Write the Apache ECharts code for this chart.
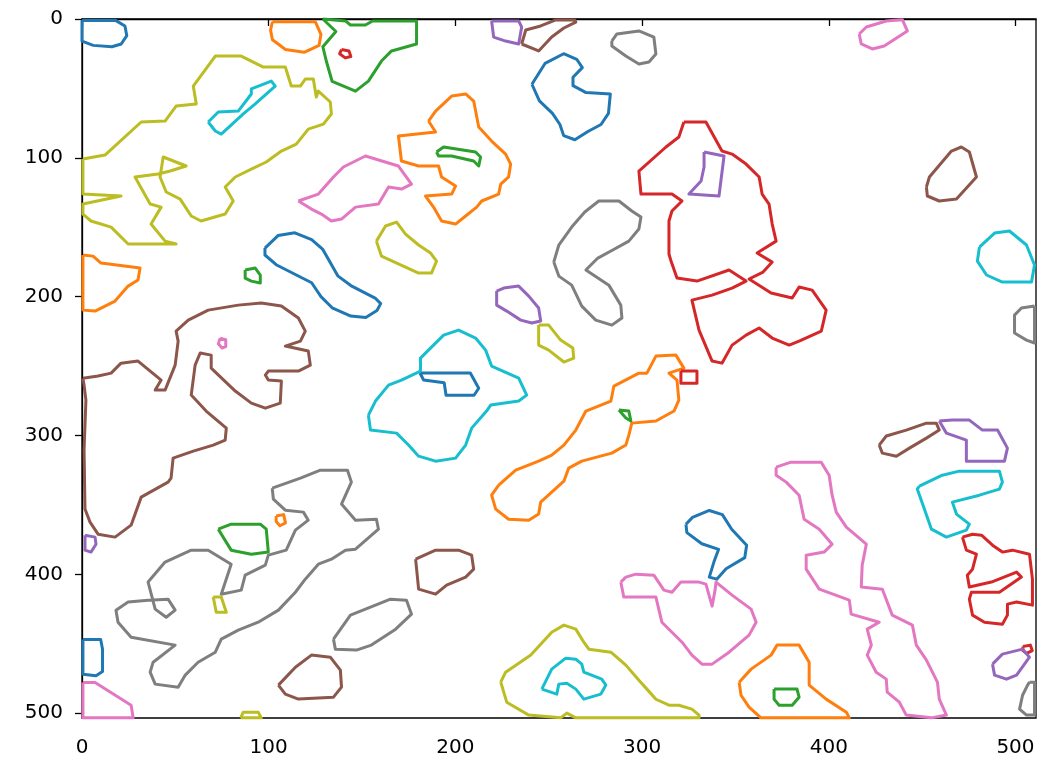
<!DOCTYPE html>
<html>
<head>
<meta charset="utf-8">
<script src="https://cdn.jsdelivr.net/npm/echarts@6/dist/echarts.min.js"></script>
<style>
  html, body { margin: 0; padding: 0; background: #fff; }
  #chart { width: 1043px; height: 775px; }
</style>
</head>
<body>
<div id="chart"></div>
<script>
// contour outlines, [x, y] in image coordinates (y grows downward)
var blueContours = [
  [[0,1],[18,1],[23,5],[24,12],[21,18],[16,20],[6,19],[0,16]],
  [[241,47],[248,32],[258,25],[265,29],[268,35],[263,42],[263,48],[270,53],[283,54],[282,68],[278,76],[271,81],[264,87],[258,84],[256,76],[252,68],[245,59]],
  [[98,165],[105,156],[114,154],[123,159],[129,166],[137,185],[144,192],[157,201],[160,205],[158,210],[152,215],[144,214],[134,208],[128,200],[123,190],[104,177],[98,170]],
  [[181,255],[208,255],[212.5,266],[210,271],[195,271],[194,262],[183,260]],
  [[0.5,447],[10,447],[11,454],[11,470],[7.5,473],[0.5,472]],
  [[323.5,364],[327,359],[336,354],[343,357],[348,367.5],[356,379],[355,388],[345,396],[340,403.5],[336,402],[338.5,391],[341,382],[332,378],[324,370]]
];
var orangeContours = [
  [[102,2],[125,2],[128,11],[127,19],[119,24],[109,22],[102,15],[101,8]],
  [[185.6,73.5],[189.4,66.3],[198,55.5],[205.5,54],[209.8,59.1],[212.5,77.8],[219.4,87.9],[226.9,97.3],[229.6,104.5],[228.5,113.8],[224.3,118.9],[223.2,126.1],[214.1,131.1],[211.4,135.5],[205.5,141.9],[200.1,147.7],[192.6,145.5],[188.3,135.5],[184,127.5],[198,126.1],[200.1,120.3],[192.6,113.8],[191,105.9],[180.3,105.9],[171.1,102.3],[169.5,84.3],[189.4,81.4]],
  [[0.5,170],[5.9,170.8],[10.2,175.8],[31.1,179.4],[30,188],[24.7,192.4],[17.7,203.2],[7,210.4],[0.5,209.7]],
  [[223.2,335.8],[232.3,325],[244.6,318.5],[251.6,314.1],[258.1,306.9],[264.5,296.1],[269.9,282.4],[283.3,275.2],[284.9,264.4],[298.3,255.1],[302.6,255.1],[307.4,242.8],[318.1,242.1],[322.4,251.5],[314.4,255.1],[318.7,260.1],[319.7,274.5],[317.1,282.4],[307.4,289.6],[294.5,291.1],[292.9,299.7],[291.3,306.9],[283.8,312.7],[267.7,318.5],[260.7,323.5],[258.1,332.9],[251.6,340.8],[245.7,348],[244.6,356.6],[239.3,361],[228.5,360.3],[221.6,353],[219.4,343]],
  [[104,358],[108,357],[109,363],[106,365],[104,362]],
  [[352,477.7],[358.4,468.3],[369.1,458.2],[372.3,451],[384.1,451],[389.5,463.3],[389.5,479.8],[398.6,489.9],[409.4,499.3],[411,503.4],[363.7,503.4],[357.3,495.7],[353,487.1]]
];
var greenContours = [
  [[129,0],[136,9],[129,20],[131,31],[134,45],[146.5,52],[153.4,44.7],[160.4,30.3],[165.8,23],[179.2,18],[179.2,1.4],[155.6,1.4],[151.8,4.3],[143.8,4.3],[141.1,1.4]],
  [[189.9,95.8],[193.7,92.2],[210.8,95.8],[213.5,99.4],[212.5,105.9],[209.8,102.3],[198,98.7],[191,98.7]],
  [[87.4,180.8],[92.8,179.4],[95.5,184.5],[95.5,190.2],[90.7,188.8],[87.4,186.7]],
  [[73,367.5],[79.9,363.9],[95.5,363.9],[98.7,367.5],[99.8,384],[90.7,385.5],[79.9,382.6]],
  [[287.6,281.7],[292.9,282.4],[294,289.6],[291.3,287.4]],
  [[370.7,482.7],[383,482.7],[384.1,488.5],[380.4,494.3],[373.4,494.3],[370.7,489.9]]
];
var redContours = [
  [[139,22],[143,23],[144,27],[141,28],[138,25]],
  [[322.4,74.2],[334.2,74.2],[342.8,95.1],[348.2,97.3],[355.7,104.5],[362.7,113.8],[364.3,126.1],[368,133.3],[369.7,147.7],[371.8,160],[361.6,168.6],[369.7,175.1],[364.8,182.3],[357.3,187.3],[369.1,197.4],[380.4,201],[384.1,193.1],[391.1,195.3],[398.6,209.7],[396,224.8],[384.1,232],[378.8,234.9],[369.7,229.8],[362.7,222.6],[355.7,227.7],[348.2,234.9],[342.8,247.9],[337.5,246.4],[330.5,224.1],[326.7,202.5],[337.5,198.9],[348.2,193.8],[355.7,188.8],[346.6,180.8],[329.4,188.8],[318.7,186.6],[315.5,174.4],[314.4,169.3],[314.4,145.5],[316,138.3],[321.4,131.1],[316,126.1],[299.4,126.1],[298.3,109.5],[312.8,92.2],[319.7,85]],
  [[320.8,253.6],[329.4,253.6],[329.4,262.3],[320.8,262.3]],
  [[471.6,373.2],[477,371.1],[481.8,371.8],[487.7,379],[493,384],[498.4,382.6],[507.5,385.5],[509.1,403.5],[509.1,422.2],[500.6,420],[495.7,421.5],[495.7,429.4],[493,435.9],[483.4,434.5],[477,429.4],[475.3,417.9],[476.4,412.9],[491.4,412.9],[503.2,402],[500.6,398.4],[487.1,405.6],[475.3,409.2],[474.2,400.6],[477,396.3],[479.1,385.5],[473.7,382.6]],
  [[504,452],[508,451],[509,455],[506,457],[504,455]]
];
var purpleContours = [
  [[219.4,1.4],[220.5,13],[226.9,15.9],[233.9,18],[235.5,5.8],[233.9,1.4]],
  [[333.2,95.8],[343.9,98.7],[341.2,127.5],[325.1,126.1],[331.6,116.7],[333.2,106.6]],
  [[222.1,196],[225.9,193.8],[233.9,192.4],[239.3,199.6],[244.6,208.2],[245.7,217.6],[240.9,219],[235,216.9],[227.5,210.4],[222.1,206.1]],
  [[1.6,371.8],[7,373.2],[7.5,378.3],[4.8,384],[1.6,382.6]],
  [[459.2,289.6],[466.2,288.9],[475.3,288.9],[482.3,296.1],[490.4,296.1],[495.7,309.1],[494.1,318.5],[473.7,318.5],[473.7,303.3],[463,298.3]],
  [[487.7,464.7],[493,457.5],[503.8,453.9],[507.5,459.7],[500.6,472.6],[495.2,475.5],[488.8,472.6]]
];
var brownContours = [
  [[235.5,18],[244.6,23],[251.6,13],[258.1,6.5],[264.5,2.2],[264,0.7],[253.8,0.7],[245.7,5],[237.7,7.9]],
  [[452.3,121],[453.9,113.8],[465.7,95.1],[471,92.2],[475.3,95.8],[479.1,113.8],[468.4,129.7],[459.2,131.1],[452.8,127.5]],
  [[0.5,258.7],[8.6,257.2],[15.6,255.1],[20.9,247.9],[30,246.4],[42.4,260.1],[39.2,267.3],[44.5,267.3],[49.9,249.3],[51.5,232],[50.4,224.8],[56.9,216.9],[67.6,209.7],[83.7,206.1],[96,204.6],[106.8,206.8],[115.9,215.4],[119.6,224.8],[117,232],[108.9,235.6],[121.2,239.2],[122.3,249.3],[115.9,253.6],[99.8,253.6],[98.2,256.5],[99.8,260.1],[106.8,260.8],[106.2,276.7],[98.2,280.3],[90.7,276.7],[82.1,268],[69.2,251.5],[69.2,242.1],[63.3,240.6],[60.6,249.3],[58.5,270.9],[66.5,282.4],[77.3,294.7],[76.7,303.3],[70.3,306.9],[59.6,311.3],[48.8,316.3],[47.7,330.7],[46.1,333.6],[31.7,344.4],[26.3,364.6],[17.7,373.2],[8.6,371.1],[4.3,362.4],[1.6,353],[1.1,310.5],[2.1,274.5],[1.1,263.7]],
  [[178.7,389.1],[189.4,382.6],[201.7,382.6],[208.7,386.2],[209.8,396.3],[205.5,402],[195.3,407.8],[189.4,414.3],[180.3,410.7]],
  [[105.2,479.8],[114.3,466.9],[122.9,458.2],[133,459.7],[138.4,469],[139,481.3],[134.7,488.5],[115.9,489.9],[108.9,486.3]],
  [[427,306.9],[430.8,300.4],[441.5,296.1],[452.3,291.1],[457.6,291.1],[459.2,296.1],[452.3,301.9],[443.2,309.1],[436.2,314.9],[428.7,312.7]]
];
var pinkContours = [
  [[416.3,10.8],[420.1,5.8],[430.8,1.4],[439.4,0.5],[442.1,8.6],[429.7,19.5],[423.3,21.6],[417.4,18]],
  [[115.9,131.1],[126.6,126.1],[134.7,113.8],[140,106.6],[151.8,98.7],[169.5,105.9],[176.5,118.9],[171.1,122.5],[164.2,121],[158.8,133.3],[146.5,135.5],[139,144.1],[133.6,145.5],[128.2,140.5],[122.9,136.9]],
  [[74,230],[77,231],[77,236],[75,237],[73,234]],
  [[288.6,405.6],[291.3,402],[296.7,399.9],[306.3,400.6],[311.7,411.4],[316,412.9],[320.8,405.6],[330.5,405.6],[334.2,407.1],[337.5,422.9],[339.1,411.4],[339.6,405.6],[348.2,415],[358.4,425.1],[361.1,434.5],[357.3,443.8],[346.6,456.1],[337.5,464.7],[332.1,464.7],[326.7,458.2],[321.4,448.9],[310.6,434.5],[307.4,416.4],[298.3,416.4],[290.2,416.4]],
  [[371.8,322.8],[379.8,319.2],[395.9,319.2],[400.2,328.6],[401.8,343],[404,355.2],[409.4,366],[420.1,378.3],[417.9,393.4],[417.4,409.2],[428.7,410.7],[434,429.4],[444.8,436.6],[446.9,451],[452.3,461.8],[458.2,477.7],[459.2,489.9],[463,501.4],[455,503.4],[441.5,501.4],[437.8,492.1],[431.3,484.9],[430.8,475.5],[425.4,470.5],[420.6,458.2],[422.8,451],[420.6,439.5],[427,434.5],[412,428.7],[411,418.6],[394.9,410.7],[387.9,396.3],[387.9,386.2],[397.5,384],[401.8,378.3],[394.9,367.5],[386.8,360.3],[384.1,343],[377.2,333.6],[371.8,328.6]],
  [[0.5,478],[7,478],[26.3,494.3],[27.4,503.4],[0.5,503.4]]
];
var grayContours = [
  [[283.8,15.9],[286.5,10.8],[298.3,8.6],[306.3,13],[307.4,25.2],[303.7,31],[298.3,32.4],[291.3,26.7],[283.8,19.5]],
  [[252.7,175.1],[255.4,162.8],[262.3,149.9],[269.3,139],[276.8,131.1],[287.6,131.1],[294.5,138.3],[299.4,142.7],[298.3,151.3],[292.9,160],[284.3,166.4],[276.3,172.2],[269.9,180.8],[282.2,191.7],[288.6,206.1],[289.2,215.4],[283.8,220.5],[275.2,216.9],[267.7,206.8],[262.3,191.7],[255.4,185.2]],
  [[101.9,337.9],[117,330.7],[127.7,325],[142.2,325],[144.3,333.6],[139,349.4],[146.5,361],[157.7,360.3],[158.8,367.5],[146.5,381.9],[141.1,382.6],[133.6,389.1],[126.6,392.7],[119.6,403.5],[114.3,412.9],[105.2,425.8],[94.4,434.5],[83.7,440.2],[74.6,446.7],[71.4,456.1],[62.2,463.3],[55.3,472.6],[51.5,481.3],[39.2,479.1],[36.5,470.5],[38.1,463.3],[49.9,451],[26.3,445.3],[19.3,434.5],[18.2,425.8],[24.7,420],[35.4,418.6],[46.1,417.9],[49.9,425.8],[45.1,430.9],[39.2,425.1],[35.4,405.6],[44.5,391.2],[58.5,382.6],[67.6,382.6],[79.9,392.7],[74.6,414.3],[85.3,411.4],[87.4,400.6],[98.2,393.4],[99.8,386.2],[109.4,382.6],[114.3,368.2],[121.2,361],[118.6,355.2],[108.9,353.8],[102.5,345.8]],
  [[134.7,446.7],[143.8,429.4],[157.2,422.2],[165.2,417.9],[173.8,418.6],[176.5,428.7],[168,439.5],[155,451],[147,454.6],[135.7,453.9]],
  [[510.2,206.8],[503.2,208.2],[499.5,213.3],[499.5,226.2],[505.9,231.3],[510.2,233.4]],
  [[507.5,477.7],[510.2,477.7],[510.2,501.4],[505.9,501.4],[502.2,497.1],[503.8,487.1],[506.5,479.8]]
];
var oliveContours = [
  [[0.5,100.9],[12.3,98],[31.7,74.2],[44.5,73.5],[50.4,62.7],[61.2,61.2],[59.6,48.3],[71.4,26.7],[85.3,26.7],[97.1,34.6],[108.9,34.6],[112.1,48.3],[117,48.3],[119.6,43.2],[123.9,43.2],[125.5,56.2],[126.6,51.9],[133,59.8],[133.6,68.4],[129.3,75.7],[121.2,79.3],[114.8,90.1],[106.8,95.1],[98.7,103],[90.7,108.1],[82.1,113.8],[76.7,121],[81,131.1],[76.7,140.5],[63.8,145.5],[58.5,141.9],[52.6,129.7],[45.1,124.6],[41.8,113.8],[43.5,99.4],[55.8,105.9],[47.2,109.5],[40.8,111.7],[28.4,113.8],[36.5,133.3],[42.4,135.5],[37,147.7],[44.5,160],[50.4,162.1],[24.7,162.1],[15.6,149.9],[4.8,145.5],[0.5,140.5],[0.5,133.3],[20.9,127.5],[0.5,126.1]],
  [[157.7,160],[162.6,149.1],[168.5,146.3],[173.3,154.9],[180.3,162.8],[186.7,168.6],[189.9,174.4],[187.2,183],[180.3,183],[160.4,170.8]],
  [[244.6,220.5],[250,220.5],[256.4,231.3],[262.9,237],[263.4,244.3],[258.1,247.1],[250,238.5],[244.6,234.9]],
  [[70.3,416.4],[74.6,416.4],[77.3,427.3],[71.9,427.3]],
  [[224.3,477.7],[226.9,470.5],[240.4,458.2],[251.6,441.7],[258.1,436.6],[264.5,439.5],[268.8,448.9],[271.5,453.9],[283.3,456.1],[291.3,465.4],[298.3,476.3],[302.6,482.7],[307.4,490],[314.4,494.3],[319.7,494.3],[326.7,497.1],[330.5,501.4],[330.5,503.4],[264.5,503.4],[259.7,500],[256.4,503.4],[239.3,501.4],[227.5,492.1]],
  [[85,503.4],[86.4,499.3],[94.4,499.3],[96,503.4]]
];
var cyanContours = [
  [[67.6,74.2],[73,67],[83.7,66.3],[90.7,54],[90.7,50.4],[101.4,44.7],[103.5,48.3],[92.8,61.2],[86.4,68.4],[74.6,82.9],[71.4,80.7]],
  [[153.4,285.3],[154.5,296.1],[168.5,298.3],[174.9,306.9],[180.3,314.9],[189.4,318.5],[200.1,316.3],[205.5,306.9],[208.7,294.7],[216.7,282.4],[218.9,278.1],[233.9,275.2],[238.2,270.9],[233.9,258.7],[219.4,250],[216.2,238.5],[210.8,229.8],[201.7,224.1],[193.7,227.7],[188.3,234.9],[181.3,244.3],[181.3,253.6],[171.1,260.1],[164.2,263.7],[157.2,275.2]],
  [[480.7,164.3],[488.8,154.2],[496.8,152.7],[505.9,162.8],[510.2,177.2],[508.6,189.5],[493,189.5],[484.5,184.4],[479.6,174.4]],
  [[448.5,336.5],[460.8,328.6],[469.9,325.7],[491.4,325.7],[493,333.6],[491.4,338.6],[480.7,343],[466.2,348],[468.4,356.6],[475.3,363.9],[473.7,368.2],[463,373.2],[455,367.5],[451.2,353],[447.4,338.6]],
  [[246.3,482.7],[251.6,468.3],[259.1,460.4],[264.5,461.1],[267.7,464.7],[268.8,470.5],[278.4,475.5],[280.6,479.8],[277.9,486.3],[268.8,489.9],[264.5,482.7],[259.7,478.4],[255.4,479.1],[254.3,486.3]]
];

var tab10 = ['#1f77b4', '#ff7f0e', '#2ca02c', '#d62728', '#9467bd',
             '#8c564b', '#e377c2', '#7f7f7f', '#bcbd22', '#17becf'];
var groups = [blueContours, orangeContours, greenContours, redContours, purpleContours,
              brownContours, pinkContours, grayContours, oliveContours, cyanContours];
var tickValues = [0, 100, 200, 300, 400, 500];

var series = [];
groups.forEach(function (group, gi) {
    group.forEach(function (ring) {
        series.push({
            type: 'line',
            data: ring.concat([ring[0]]),
            showSymbol: false,
            symbol: 'none',
            silent: true,
            clip: false,
            lineStyle: { color: tab10[gi], width: 3, join: 'round' }
        });
    });
});

var labelStyle = { color: '#000', fontSize: 20, fontFamily: 'DejaVu Sans' };

var chart = echarts.init(document.getElementById('chart'), null, { renderer: 'canvas' });
chart.setOption({
    animation: false,
    backgroundColor: '#fff',
    grid: { left: 82, right: 7, top: 19, bottom: 57, show: true, borderColor: '#000', borderWidth: 1.3 },
    xAxis: {
        type: 'value', min: 0, max: 511,
        axisLine: { show: true, lineStyle: { color: '#000', width: 1.3 } },
        axisTick: { show: true, length: 7, lineStyle: { color: '#000', width: 1.3 }, customValues: tickValues },
        axisLabel: Object.assign({ margin: 20, customValues: tickValues }, labelStyle),
        splitLine: { show: false }
    },
    yAxis: {
        type: 'value', min: 0, max: 503.5, inverse: true,
        axisLine: { show: true, lineStyle: { color: '#000', width: 1.3 } },
        axisTick: { show: true, length: 7, lineStyle: { color: '#000', width: 1.3 }, customValues: tickValues },
        axisLabel: Object.assign({ margin: 19, customValues: tickValues }, labelStyle),
        splitLine: { show: false }
    },
    series: series
});
</script>
</body>
</html>
